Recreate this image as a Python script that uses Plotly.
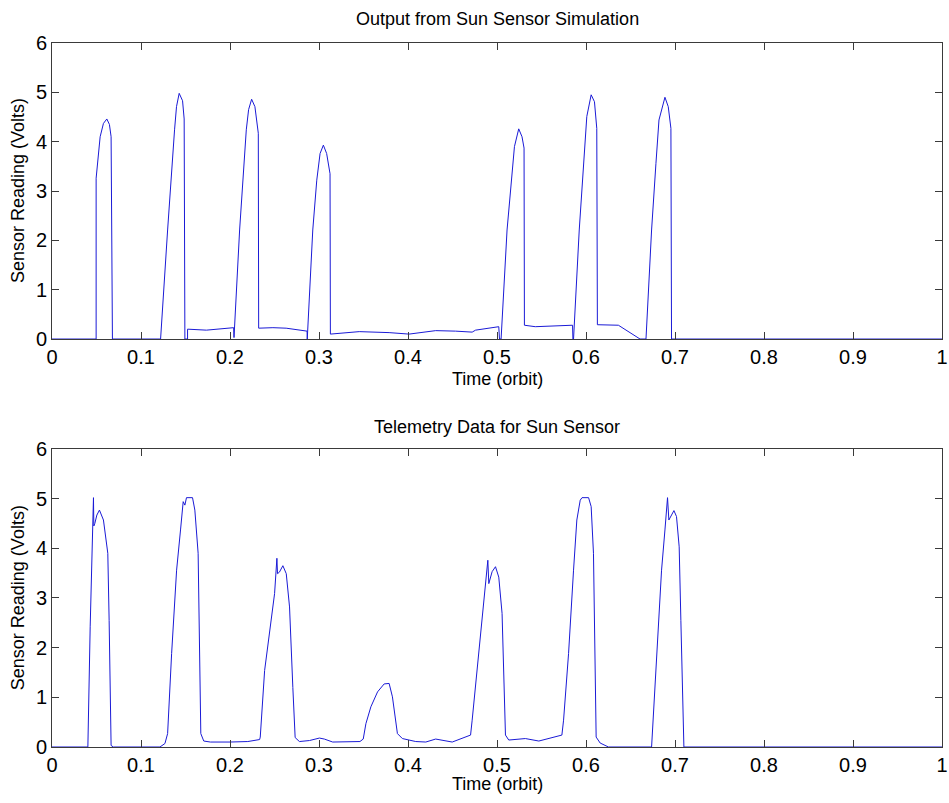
import plotly.graph_objects as go

# ---- Data: Output from Sun Sensor Simulation ----
sim_t = [0.0, 0.0496, 0.0496, 0.0511, 0.0541, 0.0578, 0.0616, 0.0645, 0.0664, 0.0679,
         0.1220, 0.1299, 0.1347, 0.1377, 0.1399, 0.1429, 0.1467, 0.1485, 0.1493,
         0.1523, 0.1523, 0.1735, 0.2041, 0.2045,
         0.2108, 0.2153, 0.2183, 0.2209, 0.2243, 0.2280, 0.2318, 0.2322,
         0.2482, 0.2631, 0.2780, 0.2866, 0.2868,
         0.2930, 0.2975, 0.3012, 0.3049, 0.3086, 0.3124, 0.3128,
         0.3452, 0.3788, 0.4012, 0.4087, 0.4311, 0.4535, 0.4721, 0.4759, 0.5020, 0.5028, 0.5046,
         0.5113, 0.5158, 0.5196, 0.5244, 0.5281, 0.5304, 0.5308,
         0.5430, 0.5655, 0.5849, 0.5853, 0.5860,
         0.5924, 0.5972, 0.6009, 0.6058, 0.6095, 0.6121, 0.6128,
         0.6364, 0.6607, 0.6674,
         0.6737, 0.6786, 0.6820, 0.6887, 0.6924, 0.6954, 0.6961, 1.0]
sim_v = [0.0, 0.0, 3.26, 3.56, 4.10, 4.37, 4.46, 4.35, 4.10, 0.0,
         0.0, 2.21, 3.56, 4.24, 4.71, 4.98, 4.83, 4.46, 0.0,
         0.0, 0.20, 0.18, 0.23, 0.03,
         2.21, 3.56, 4.24, 4.65, 4.86, 4.71, 4.17, 0.22,
         0.23, 0.22, 0.19, 0.16, 0.0,
         2.21, 3.22, 3.76, 3.93, 3.76, 3.35, 0.10,
         0.15, 0.13, 0.10, 0.12, 0.17, 0.16, 0.14, 0.18, 0.25, 0.0, 0.0,
         2.21, 3.22, 3.90, 4.26, 4.10, 3.87, 0.28,
         0.25, 0.27, 0.28, 0.0, 0.0,
         2.21, 3.56, 4.51, 4.95, 4.81, 4.27, 0.29,
         0.28, 0.0, 0.0,
         2.21, 3.56, 4.44, 4.90, 4.71, 4.27, 0.0, 0.0]

# ---- Data: Telemetry Data for Sun Sensor ----
tel_t = [0.0, 0.0403, 0.0429, 0.0455, 0.0466, 0.0470, 0.0481, 0.0504, 0.0533, 0.0578,
         0.0608, 0.0627, 0.0642, 0.0653, 0.0664, 0.0690,
         0.1213, 0.1269, 0.1299, 0.1344, 0.1400, 0.1444, 0.1474, 0.1493, 0.1511, 0.1579,
         0.1605, 0.1642, 0.1661, 0.1672, 0.1705, 0.1780, 0.2000, 0.2200, 0.2333,
         0.2340, 0.2389, 0.2445, 0.2501, 0.2527, 0.2534, 0.2555, 0.2594, 0.2632, 0.2669,
         0.2706, 0.2732, 0.2780, 0.2893, 0.3005, 0.3060, 0.3154, 0.3340, 0.3460,
         0.3497, 0.3527, 0.3583, 0.3658, 0.3732, 0.3788, 0.3825, 0.3881, 0.3937,
         0.4087, 0.4200, 0.4311, 0.4497, 0.4703, 0.4721, 0.4759, 0.4815, 0.4863, 0.4897,
         0.4908, 0.4945, 0.4983, 0.5020, 0.5057, 0.5076, 0.5095, 0.5132, 0.5319, 0.5470,
         0.5729, 0.5748, 0.5804, 0.5860, 0.5897, 0.5935, 0.5955, 0.6029, 0.6058, 0.6084,
         0.6103, 0.6114, 0.6159, 0.6252, 0.6737, 0.6793, 0.6849, 0.6887, 0.6916, 0.6931,
         0.6950, 0.6988, 0.7017, 0.7047, 0.7066, 0.7084, 0.7100, 1.0]
tel_v = [0.0, 0.0, 2.42, 4.37, 5.02, 4.45, 4.50, 4.67, 4.77, 4.57,
         4.17, 3.90, 2.55, 0.54, 0.03, 0.0,
         0.0, 0.07, 0.27, 1.88, 3.56, 4.37, 4.94, 4.87, 5.02, 5.02,
         4.77, 3.90, 1.88, 0.27, 0.12, 0.10, 0.10, 0.11, 0.15,
         0.20, 1.54, 2.28, 3.09, 3.80, 3.49, 3.52, 3.65, 3.49, 2.82,
         1.20, 0.19, 0.11, 0.13, 0.18, 0.16, 0.10, 0.11, 0.11,
         0.16, 0.47, 0.81, 1.11, 1.27, 1.28, 1.01, 0.27, 0.17,
         0.11, 0.10, 0.16, 0.10, 0.24, 0.54, 1.21, 2.22, 3.09, 3.76,
         3.29, 3.53, 3.63, 3.42, 2.69, 1.21, 0.24, 0.14, 0.17, 0.12,
         0.24, 0.54, 1.88, 3.56, 4.57, 4.97, 5.02, 5.02, 4.84, 3.90,
         1.21, 0.20, 0.08, 0.0, 0.0, 1.88, 3.56, 4.37, 5.02, 4.57,
         4.64, 4.76, 4.64, 4.03, 2.55, 0.87, 0.0, 0.0]

x_ticks = [0, 0.1, 0.2, 0.3, 0.4, 0.5, 0.6, 0.7, 0.8, 0.9, 1]
x_labels = ["0", "0.1", "0.2", "0.3", "0.4", "0.5", "0.6", "0.7", "0.8", "0.9", "1"]
y_ticks = [0, 1, 2, 3, 4, 5, 6]
y_labels = ["0", "1", "2", "3", "4", "5", "6"]

titles = ["Output from Sun Sensor Simulation", "Telemetry Data for Sun Sensor"]
x_title = "Time (orbit)"
y_title = "Sensor Reading (Volts)"

LINE = "#1a1ad6"
AX = "#3a3a3a"
FONT = "Liberation Sans, Arial, Helvetica, sans-serif"

fig = go.Figure()
fig.add_trace(go.Scatter(x=sim_t, y=sim_v, mode="lines",
                         line=dict(color=LINE, width=1), xaxis="x", yaxis="y",
                         showlegend=False))
fig.add_trace(go.Scatter(x=tel_t, y=tel_v, mode="lines",
                         line=dict(color=LINE, width=1), xaxis="x2", yaxis="y2",
                         showlegend=False))

ax_common = dict(showgrid=False, zeroline=False, showline=True, linecolor=AX,
                 linewidth=1, mirror="ticks", ticks="inside", ticklen=7,
                 tickcolor=AX, tickwidth=1, automargin=False,
                 ticklabeloverflow="allow",
                 tickfont=dict(size=20, color="black"))

fig.update_layout(
    width=949, height=803,
    margin=dict(l=52, r=7, t=43, b=56, autoexpand=False),
    paper_bgcolor="white", plot_bgcolor="white",
    font=dict(family=FONT, size=18, color="black"),
    xaxis=dict(domain=[0, 1], range=[0, 1], tickvals=x_ticks, ticktext=x_labels,
               anchor="y", **ax_common),
    yaxis=dict(domain=[0.5795, 1], range=[0, 6], tickvals=y_ticks, ticktext=y_labels,
               anchor="x", **ax_common),
    xaxis2=dict(domain=[0, 1], range=[0, 1], tickvals=x_ticks, ticktext=x_labels,
                anchor="y2", **ax_common),
    yaxis2=dict(domain=[0, 0.4233], range=[0, 6], tickvals=y_ticks, ticktext=y_labels,
                anchor="x2", **ax_common),
)

ann = []
for txt, yc in zip(titles, [1.034, 0.4545]):
    ann.append(dict(text=txt, x=0.5, y=yc, xref="paper", yref="paper",
                    xanchor="center", yanchor="middle", showarrow=False,
                    font=dict(size=18)))
for yc in [0.5227, -0.0525]:
    ann.append(dict(text=x_title, x=0.5, y=yc, xref="paper", yref="paper",
                    xanchor="center", yanchor="middle", showarrow=False,
                    font=dict(size=18)))
for yc in [0.79, 0.2116]:
    ann.append(dict(text=y_title, x=-0.038, y=yc, xref="paper", yref="paper",
                    xanchor="center", yanchor="middle", showarrow=False,
                    textangle=-90, font=dict(size=18)))
fig.update_layout(annotations=ann)

fig.write_html("out.html", config={"displayModeBar": False},
               post_script="document.body.style.margin='0';document.body.style.padding='0';")
